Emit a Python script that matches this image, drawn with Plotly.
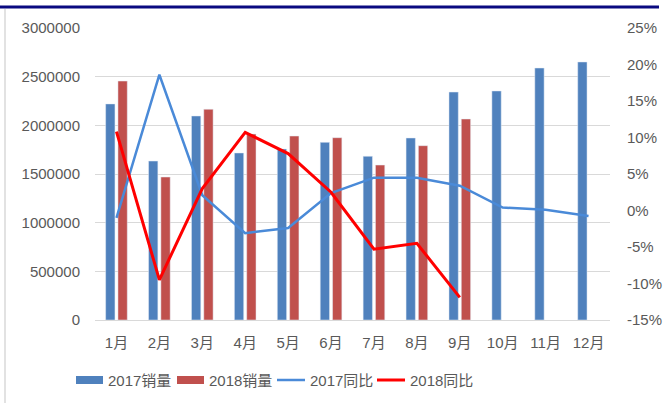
import plotly.graph_objects as go

months = ["1月", "2月", "3月", "4月", "5月", "6月", "7月", "8月", "9月", "10月", "11月", "12月"]
sales_2017 = [2220000, 1633000, 2096000, 1716000, 1757000, 1825000, 1682000, 1870000, 2342000, 2353000, 2589000, 2651000]
sales_2018 = [2455000, 1469000, 2165000, 1911000, 1890000, 1873000, 1592000, 1791000, 2065000]
yoy_2017 = [-1.0, 18.6, 2.1, -3.1, -2.4, 2.4, 4.5, 4.5, 3.4, 0.4, 0.1, -0.75]
yoy_2018 = [10.8, -9.5, 3.0, 10.7, 7.8, 2.5, -5.3, -4.5, -11.9]

left_ticks = [0, 500000, 1000000, 1500000, 2000000, 2500000, 3000000]
right_ticks = [-15, -10, -5, 0, 5, 10, 15, 20, 25]
right_labels = ["-15%", "-10%", "-5%", "0%", "5%", "10%", "15%", "20%", "25%"]
legend_names = ["2017销量", "2018销量", "2017同比", "2018同比"]

C17 = "#4f81bd"
C18 = "#c0504d"
L17 = "#4a8ad8"
L18 = "#ff0000"
GRAY = "#595959"
FONT = "Liberation Sans, Noto Sans CJK SC, sans-serif"

fig = go.Figure()
fig.add_trace(go.Bar(x=months, y=sales_2017, name=legend_names[0], marker_color=C17, showlegend=False))
fig.add_trace(go.Bar(x=months[:len(sales_2018)], y=sales_2018, name=legend_names[1], marker_color=C18, showlegend=False))
fig.add_trace(go.Scatter(x=months, y=yoy_2017, name=legend_names[2], mode="lines",
                         line=dict(color=L17, width=2.5), yaxis="y2", showlegend=False))
fig.add_trace(go.Scatter(x=months[:len(yoy_2018)], y=yoy_2018, name=legend_names[3], mode="lines",
                         line=dict(color=L18, width=3), yaxis="y2", showlegend=False))

W, H = 669, 403
L, R, T, B = 95, 59, 28, 83
pw, ph = W - L - R, H - T - B

def px_x(p):
    return (p - L) / pw

def px_y(p):
    return (H - B - p) / ph

shapes = [
    # top navy rule
    dict(type="line", xref="paper", yref="paper", x0=px_x(0), x1=px_x(659), y0=px_y(7), y1=px_y(7),
         line=dict(color="#0a0a80", width=3)),
    # left light border
    dict(type="line", xref="paper", yref="paper", x0=px_x(5), x1=px_x(5), y0=px_y(9), y1=px_y(403),
         line=dict(color="#d9d9d9", width=1.5)),
]
annotations = []
leg_y = px_y(380)
items = [(76, 103, C17, "bar", legend_names[0]), (177, 204, C18, "bar", legend_names[1]),
         (277, 305, L17, "line", legend_names[2]), (377, 405, L18, "line", legend_names[3])]
for x0, x1, col, kind, name in items:
    if kind == "bar":
        shapes.append(dict(type="rect", xref="paper", yref="paper", x0=px_x(x0), x1=px_x(x1),
                           y0=px_y(384), y1=px_y(376), fillcolor=col, line=dict(width=0)))
    else:
        shapes.append(dict(type="line", xref="paper", yref="paper", x0=px_x(x0), x1=px_x(x1),
                           y0=leg_y, y1=leg_y, line=dict(color=col, width=3 if col == L18 else 2.5)))
    annotations.append(dict(xref="paper", yref="paper", x=px_x(x1 + 3), y=leg_y, text=name,
                            showarrow=False, xanchor="left", yanchor="middle",
                            font=dict(family=FONT, size=15, color=GRAY)))

fig.update_layout(
    width=W, height=H,
    margin=dict(l=L, r=R, t=T, b=B),
    paper_bgcolor="white", plot_bgcolor="white",
    barmode="group", bargap=0.426, bargroupgap=0.244,
    font=dict(family=FONT, size=15, color=GRAY),
    xaxis=dict(showgrid=False, showline=False, ticks="", tickfont=dict(size=15, color=GRAY),
               ticklabelstandoff=12, automargin=False),
    yaxis=dict(range=[0, 3000000], tickvals=left_ticks, tickformat="d", showgrid=True,
               gridcolor="#d9d9d9", gridwidth=1, zeroline=True, zerolinecolor="#d9d9d9",
               zerolinewidth=1, ticks="", ticklabelstandoff=14, tickfont=dict(size=15, color=GRAY),
               automargin=False),
    yaxis2=dict(range=[-15, 25], overlaying="y", side="right", tickvals=right_ticks,
                ticktext=right_labels, showgrid=False, zeroline=False, ticks="",
                ticklabelstandoff=16, tickfont=dict(size=15, color=GRAY), automargin=False),
    shapes=shapes, annotations=annotations, showlegend=False,
)

fig.write_html("out.html", config={"displayModeBar": False},
               post_script="document.body.style.margin='0px';")
